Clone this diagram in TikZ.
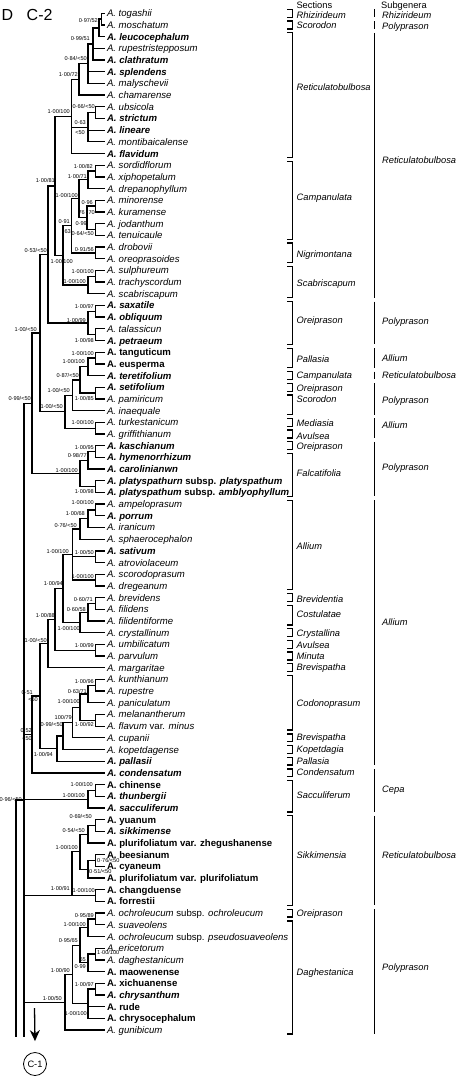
\documentclass[tikz,border=0pt]{standalone}
\usepackage{fontspec}
\setmainfont{Liberation Sans}
\usetikzlibrary{calc,arrows.meta}
\newcommand\lf[2]{\coordinate (t#1) at (104.5,{13.3+11.686*(#1-1)});\node[leaf] (L#1) at (106.8,{16.8+11.686*(#1-1)}) {#2};}
\newcommand\nd[4]{\coordinate (tmpc) at ($(#3)!.5!(#4)$);\coordinate (xx) at (#2,0);\coordinate (#1) at (xx |- tmpc);}
\newcommand\cl[3]{\draw[br] (#2) -- (#1 |- #2) -- (#1 |- #3) -- (#3);}
\newcommand\cld[4]{\nd{#1}{#2}{#3}{#4}\cl{#1}{#3}{#4}}
\newcommand\ed[2]{\draw[br] (#1 |- #2) -- (#2);}
\newcommand\bl[3]{\node[bs] at (#1,#2) {#3};}
\newcommand\blw[3]{\node[bsw] at (#1,#2) {#3};}
\newcommand\spi[1]{\textit{#1}}
\newcommand\spb[1]{\textbf{\textit{#1}}}
\newcommand\spu[1]{\textbf{#1}}
\newcommand\sect[4]{\draw[sb] (287,{13.3+11.686*(#1-1)-3.9}) -- (292.3,{13.3+11.686*(#1-1)-3.9}) -- (292.3,{13.3+11.686*(#2-1)+3.9}) -- (287,{13.3+11.686*(#2-1)+3.9});\node[sec] at (296.5,{#4+3.4}) {#3};}
\newcommand\subg[4]{\draw[sb] (374.3,{13.3+11.686*(#1-1)-3.9}) -- (374.3,{13.3+11.686*(#2-1)+3.9});\node[sec] at (382,{#4+3.4}) {#3};}
\begin{document}
\begin{tikzpicture}[x=1pt,y=-1pt,
  br/.style={line width=1.3pt},
  sb/.style={line width=1.3pt},
  leaf/.style={anchor=base west,inner sep=0pt,font=\fontsize{9.6}{10}\selectfont},
  bs/.style={anchor=east,inner sep=0pt,font=\fontsize{5.6}{6}\selectfont},
  bsw/.style={anchor=west,inner sep=0pt,font=\fontsize{5.6}{6}\selectfont},
  sec/.style={anchor=base west,inner sep=0pt,font=\fontsize{9.3}{10}\selectfont\itshape},
  hd/.style={anchor=base west,inner sep=0pt,font=\fontsize{9.3}{10}\selectfont}]
\useasboundingbox (0,0) rectangle (461,1076);
\node[anchor=base west,inner sep=0pt,font=\fontsize{16}{16}\selectfont] (titD) at (1.5,20.3) {D};
\node[anchor=base west,inner sep=0pt,font=\fontsize{16}{16}\selectfont] (titC) at (26.5,20.3) {C-2};
\node[hd] (hsec) at (296.3,8.6) {Sections};
\node[hd] (hsub) at (381,8.6) {Subgenera};
% leaves
\lf{1}{\spi{A. togashii}}
\lf{2}{\spi{A. moschatum}}
\lf{3}{\spb{A. leucocephalum}}
\lf{4}{\spi{A. rupestristepposum}}
\lf{5}{\spb{A. clathratum}}
\lf{6}{\spb{A. splendens}}
\lf{7}{\spi{A. malyschevii}}
\lf{8}{\spi{A. chamarense}}
\lf{9}{\spi{A. ubsicola}}
\lf{10}{\spb{A. strictum}}
\lf{11}{\spb{A. lineare}}
\lf{12}{\spi{A. montibaicalense}}
\lf{13}{\spb{A. flavidum}}
\lf{14}{\spi{A. sordidflorum}}
\lf{15}{\spi{A. xiphopetalum}}
\lf{16}{\spi{A. drepanophyllum}}
\lf{17}{\spi{A. minorense}}
\lf{18}{\spi{A. kuramense}}
\lf{19}{\spi{A. jodanthum}}
\lf{20}{\spi{A. tenuicaule}}
\lf{21}{\spi{A. drobovii}}
\lf{22}{\spi{A. oreoprasoides}}
\lf{23}{\spi{A. sulphureum}}
\lf{24}{\spi{A. trachyscordum}}
\lf{25}{\spi{A. scabriscapum}}
\lf{26}{\spb{A. saxatile}}
\lf{27}{\spb{A. obliquum}}
\lf{28}{\spi{A. talassicun}}
\lf{29}{\spb{A. petraeum}}
\lf{30}{\spu{A. tanguticum}}
\lf{31}{\spu{A. eusperma}}
\lf{32}{\spb{A. teretifolium}}
\lf{33}{\spb{A. setifolium}}
\lf{34}{\spi{A. pamiricum}}
\lf{35}{\spi{A. inaequale}}
\lf{36}{\spi{A. turkestanicum}}
\lf{37}{\spi{A. griffithianum}}
\lf{38}{\spb{A. kaschianum}}
\lf{39}{\spb{A. hymenorrhizum}}
\lf{40}{\spb{A. carolinianwn}}
\lf{41}{\textbf{\textit{A. platyspathurn} subsp. \textit{platyspathum}}}
\lf{42}{\textbf{\textit{A. platyspathum} subsp. \textit{amblyophyllum}}}
\lf{43}{\spi{A. ampeloprasum}}
\lf{44}{\spb{A. porrum}}
\lf{45}{\spi{A. iranicum}}
\lf{46}{\spi{A. sphaerocephalon}}
\lf{47}{\spb{A. sativum}}
\lf{48}{\spi{A. atroviolaceum}}
\lf{49}{\spi{A. scorodoprasum}}
\lf{50}{\spi{A. dregeanum}}
\lf{51}{\spi{A. brevidens}}
\lf{52}{\spi{A. filidens}}
\lf{53}{\spi{A. filidentiforme}}
\lf{54}{\spi{A. crystallinum}}
\lf{55}{\spi{A. umbilicatum}}
\lf{56}{\spi{A. parvulum}}
\lf{57}{\spi{A. margaritae}}
\lf{58}{\spi{A. kunthianum}}
\lf{59}{\spi{A. rupestre}}
\lf{60}{\spi{A. paniculatum}}
\lf{61}{\spi{A. melanantherum}}
\lf{62}{\textit{A. flavum} var. \textit{minus}}
\lf{63}{\spi{A. cupanii}}
\lf{64}{\spi{A. kopetdagense}}
\lf{65}{\spb{A. pallasii}}
\lf{66}{\spb{A. condensatum}}
\lf{67}{\spu{A. chinense}}
\lf{68}{\spb{A. thunbergii}}
\lf{69}{\spb{A. sacculiferum}}
\lf{70}{\spu{A. yuanum}}
\lf{71}{\spb{A. sikkimense}}
\lf{72}{\spu{A. plurifoliatum var. zhegushanense}}
\lf{73}{\spu{A. beesianum}}
\lf{74}{\spu{A. cyaneum}}
\lf{75}{\spu{A. plurifoliatum var. plurifoliatum}}
\lf{76}{\spu{A. changduense}}
\lf{77}{\spu{A. forrestii}}
\lf{78}{\textit{A. ochroleucum} subsp. \textit{ochroleucum}}
\lf{79}{\spi{A. suaveolens}}
\lf{80}{\textit{A. ochroleucum} subsp. \textit{pseudosuaveolens}}
\lf{81}{\spi{A. ericetorum}}
\lf{82}{\spi{A. daghestanicum}}
\lf{83}{\spu{A. maowenense}}
\lf{84}{\spu{A. xichuanense}}
\lf{85}{\spb{A. chrysanthum}}
\lf{86}{\spu{A. rude}}
\lf{87}{\spu{A. chrysocephalum}}
\lf{88}{\spi{A. gunibicum}}
% tree: Reticulatobulbosa part
\cld{n1}{101.5}{t1}{t2}
\cld{n2}{99}{n1}{t3}
\cld{n3}{93}{n2}{t5} \ed{n3}{t4}
\cld{n4}{88}{n3}{t7} \ed{n4}{t6}
\cld{n5}{79}{n4}{t8}
\cld{nUS}{95.7}{t9}{t10}
\cld{nL}{88}{nUS}{t12} \ed{nL}{t11}
\cld{R}{71.7}{n5}{t13} \ed{R}{nL}
\cld{A1}{95.7}{t14}{t15}
\cld{A2}{88}{A1}{t16}
\cld{B1}{95.7}{t17}{t18}
\cld{B2}{95.7}{t19}{t20}
\cld{B3}{87}{B1}{B2}
\cld{Dn}{79}{A2}{B3}
\cld{Cn}{95.7}{t21}{t22}
\cld{En}{71.7}{Dn}{Cn}
\cld{S1}{95.7}{t23}{t24}
\cld{S2}{88}{S1}{t25}
\cld{Gn}{63}{En}{S2}
\cld{Fn}{55}{R}{Gn}
\cld{O1}{95.7}{t26}{t27}
\cld{O2}{95.7}{t28}{t29}
\cld{O3}{88}{O1}{O2}
\cld{Hn}{48}{Fn}{O3}
\cld{P1}{95.7}{t30}{t31}
\cld{P2}{88}{P1}{t32}
\cld{Qn}{95.7}{t33}{t34}
\cld{P3}{80}{P2}{Qn}
\cld{P4}{72.7}{P3}{t35}
\cld{Tn}{95.7}{t36}{t37}
\cld{P5}{65}{P4}{Tn}
\cld{Jn}{40}{Hn}{P5}
\cld{Fa1}{95.7}{t38}{t39}
\cld{Fa2}{88}{Fa1}{t40}
\cld{Fa3}{95.7}{t41}{t42}
\cld{Fa4}{80}{Fa2}{Fa3}
\cld{In}{32}{Jn}{Fa4}
% Allium part
\cld{Al1}{95.7}{t43}{t44}
\cld{Al2}{88}{Al1}{t45}
\cld{Al3}{80}{Al2}{t46}
\cld{Al4}{95.7}{t47}{t48}
\cld{Al5}{95.7}{t49}{t50}
\cld{Al7}{72.7}{Al3}{Al5} \ed{Al7}{Al4}
\cld{Br1}{95.7}{t51}{t52}
\cld{Br2}{88}{Br1}{t53}
\cld{Br3}{80}{Br2}{t54}
\cld{Al8}{63}{Al7}{Br3}
\cld{U1}{95.7}{t55}{t56}
\cld{Al9}{55}{Al8}{U1}
\cld{Al10}{48}{Al9}{t57}
\cld{Co1}{95.7}{t58}{t59}
\cld{Co2}{88}{Co1}{t60}
\cld{Co3}{95.7}{t61}{t62}
\cld{Co4}{80}{Co2}{Co3}
\cld{Co5}{72.7}{Co4}{t63}
\cld{Co6}{63}{Co5}{t64}
\cld{Co7}{57}{Co6}{t65}
\cld{Al11}{40}{Al10}{Co7}
\cld{Al12}{32}{Al11}{t66}
\cld{Sa1}{95.7}{t67}{t68}
\cld{Sa2}{88}{Sa1}{t69}
% Sikkimensia
\cld{Sk1}{95.7}{t70}{t71}
\cld{Sk2}{88}{Sk1}{t72}
\cld{Sk3}{95.7}{t73}{t74}
\cld{Sk4}{88}{Sk3}{t75}
\cld{Sk5}{80}{Sk2}{Sk4}
\cld{Sk6}{95.7}{t76}{t77}
\coordinate (xx) at (72,0);
\coordinate (Sk7) at (xx |- Sk6);
\cl{Sk7}{Sk5}{Sk6}
% Daghestanica
\cld{D1}{95.7}{t78}{t79}
\cld{D2}{88}{D1}{t80}
\cld{D3}{95.7}{t81}{t82}
\cld{D4}{88}{D3}{t83}
\cld{D5}{80}{D2}{D4}
\cld{D6}{95.7}{t84}{t85}
\cld{D7}{88}{D6}{t87} \ed{D7}{t86}
\cld{D9}{72.7}{D5}{D7}
\cld{D8}{65}{D9}{t88}
% trunk
\coordinate (bot24) at (24,1036.7);
\coordinate (bot16) at (16,1036.7);
\coordinate (j16) at (16,800);
\coordinate (j24) at (24,800);
\draw[br] (bot24 |- In) -- (bot24);
\ed{bot24}{In}
\ed{bot24}{Al12}
\ed{bot24}{Sa2}
\ed{bot24}{Sk7}
\ed{bot24}{D8}
\draw[br] (j24) -- (j16) -- (bot16);
% arrow and C-1
\node[draw,circle,line width=0.8pt,minimum size=23pt,inner sep=0pt,font=\fontsize{9.3}{10}\selectfont] (c1) at (35,1064) {C-1};
\coordinate (arrs) at (34.5,1008);
\draw[line width=1.3pt,-{Stealth[length=11pt,width=10pt]}] (arrs) -- ([yshift=11pt]c1.north);
% support labels
\bl{98}{20.7}{0·97/52}
\bl{90}{38.3}{0·99/51}
\bl{87}{58.3}{0·84/<50}
\bl{78}{74}{1·00/72}
\bl{70}{111.7}{1·00/100}
\bl{95}{106.7}{0·66/<50}
\bl{86}{122.3}{0·63}
\bl{85}{132.7}{<50}
\bl{93}{166.7}{1·00/82}
\bl{87}{176}{1·00/71}
\bl{55}{180.5}{1·00/81}
\bl{78}{195}{1·00/100}
\bl{93}{202.7}{0·96}
\bl{85}{213}{76}
\bl{95}{213}{70}
\bl{70}{221.7}{0·91}
\bl{71}{231.7}{63}
\bl{87}{223.3}{0·99}
\bl{94}{233.3}{0·64/<50}
\bl{94}{249.3}{0·91/56}
\bl{47}{250}{0·53/<50}
\bl{73}{261.7}{1·00/100}
\bl{94}{271.7}{1·00/100}
\bl{86}{281}{1·00/100}
\bl{94}{306}{1·00/97}
\bl{86}{320}{1·00/99}
\bl{37}{329.3}{1·00/<50}
\bl{94}{340}{1·00/98}
\bl{94}{353.3}{1·00/100}
\bl{85}{361.7}{1·00/100}
\bl{79}{375.7}{0·87/<50}
\bl{70}{390.7}{1·00/<50}
\bl{31}{398.3}{0·99/<50}
\bl{94}{398.3}{1·00/85}
\bl{63}{406.7}{1·00/<50}
\bl{94}{422.7}{1·00/100}
\bl{94}{447.3}{1·00/95}
\bl{87}{455}{0·98/77}
\bl{78}{470}{1·00/100}
\bl{94}{491.7}{1·00/98}
\bl{94}{502.3}{1·00/100}
\bl{85}{513.3}{1·00/68}
\bl{77}{525}{0·76/<50}
\bl{69}{551.7}{1·00/100}
\bl{94}{552.3}{1·00/50}
\bl{94}{576.7}{1·00/100}
\bl{63}{583.3}{1·00/94}
\bl{93}{599.3}{0·60/71}
\bl{86}{609.3}{0·60/58}
\bl{55}{615}{1·00/88}
\bl{80}{628.3}{1·00/100}
\bl{47}{640}{1·00/<50}
\bl{94}{645}{1·00/99}
\bl{94}{681.7}{1·00/96}
\bl{87}{691}{0·63/71}
\bl{33}{692.7}{0·51}
\bl{38}{700}{<50}
\bl{80}{701.7}{1·00/100}
\bl{72}{717.3}{100/79}
\bl{94}{724}{1·00/92}
\bl{63}{724}{0·99/<50}
\bl{32}{730.7}{0·52}
\bl{32}{739}{<50}
\bl{53}{754}{1·00/94}
\bl{93}{784}{1·00/100}
\bl{85}{795.7}{1·00/100}
\bl{22}{799}{0·96/<50}
\bl{92}{816.7}{0·69/<50}
\bl{85}{830.7}{0·54/<50}
\bl{78}{847.3}{1·00/100}
\blw{97}{860}{0·76/<50}
\blw{89}{871.7}{0·51/<50}
\bl{70}{888.3}{1·00/91}
\bl{95}{890.7}{1·00/100}
\bl{94}{915}{0·95/89}
\bl{86}{924}{1·00/100}
\bl{78}{940.7}{0·95/65}
\blw{97}{952.5}{1·00/100}
\bl{86}{959.3}{65}
\bl{86}{966.7}{0·99}
\bl{70}{970}{1·00/90}
\bl{94}{984}{1·00/97}
\bl{62}{998}{1·00/50}
\bl{87}{1013.3}{1·00/100}
% sections
\sect{1}{1}{Rhizirideum}{15.5}
\sect{2}{2}{Scorodon}{24.7}
\sect{3}{13}{Reticulatobulbosa}{87.3}
\sect{14}{20}{Campanulata}{196.7}
\sect{21}{22}{Nigrimontana}{254}
\sect{23}{25}{Scabriscapum}{283.3}
\sect{26}{29}{Oreiprason}{320}
\sect{30}{31}{Pallasia}{359.3}
\sect{32}{32}{Campanulata}{375}
\sect{33}{33}{Oreiprason}{388.3}
\sect{34}{35}{Scorodon}{399.3}
\sect{36}{36}{Mediasia}{423.3}
\sect{37}{37}{Avulsea}{436}
\sect{38}{38}{Oreiprason}{446}
\sect{39}{42}{Falcatifolia}{472.7}
\sect{43}{50}{Allium}{546}
\sect{51}{51}{Brevidentia}{599.3}
\sect{52}{53}{Costulatae}{614}
\sect{54}{54}{Crystallina}{632.7}
\sect{55}{55}{Avulsea}{645}
\sect{56}{56}{Minuta}{656}
\sect{57}{57}{Brevispatha}{667.3}
\sect{58}{62}{Codonoprasum}{702.7}
\sect{63}{63}{Brevispatha}{737.3}
\sect{64}{64}{Kopetdagia}{749.3}
\sect{65}{65}{Pallasia}{761}
\sect{66}{66}{Condensatum}{772.3}
\sect{67}{69}{Sacculiferum}{795}
\sect{70}{77}{Sikkimensia}{855}
\sect{78}{78}{Oreiprason}{912.7}
\sect{79}{88}{Daghestanica}{971.7}
% subgenera
\subg{1}{1}{Rhizirideum}{15}
\subg{2}{2}{Polyprason}{26.3}
\subg{3}{25}{Reticulatobulbosa}{160}
\subg{26}{29}{Polyprason}{321}
\subg{30}{31}{Allium}{358.3}
\subg{32}{32}{Reticulatobulbosa}{375}
\subg{33}{35}{Polyprason}{400}
\subg{36}{37}{Allium}{425}
\subg{38}{42}{Polyprason}{466.7}
\subg{43}{65}{Allium}{621.7}
\subg{66}{69}{Cepa}{789}
\subg{70}{77}{Reticulatobulbosa}{855}
\subg{78}{88}{Polyprason}{966.7}
\end{tikzpicture}
\end{document}
